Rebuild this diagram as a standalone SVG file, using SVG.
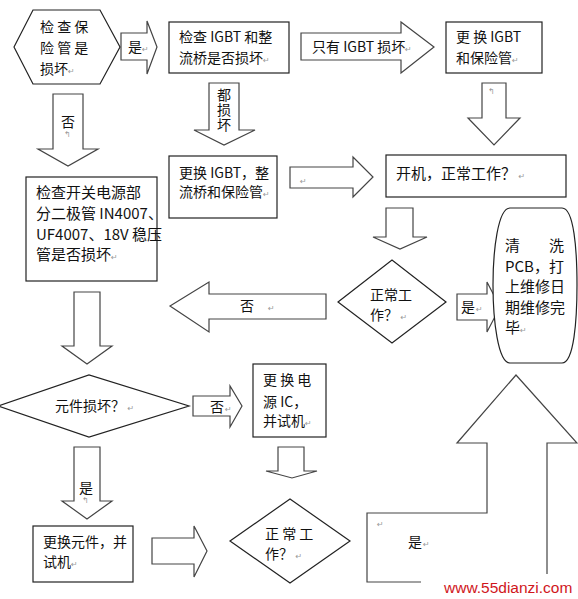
<svg xmlns="http://www.w3.org/2000/svg" width="578" height="599" viewBox="0 0 578 599">
<style>
.shape{fill:#fff;stroke:#222;stroke-width:1.2}
.arrow{fill:#fff;stroke:#444;stroke-width:1.2}
text{font-family:"Noto Sans CJK SC","Noto Sans",sans-serif;fill:#111;font-size:14px}
.t15{font-size:15px}
.mk{font-family:"DejaVu Sans",sans-serif;font-size:8px;fill:#999}
.wm{font-family:"Liberation Sans",Arial,sans-serif;font-size:15.5px;fill:#d0161c}
</style>
<rect width="578" height="599" fill="#fff"/>
<g id="connectors">
  <polygon class="arrow" points="121,33 147,33 147,21 157,47 147,74 147,60 121,60"/>
  <text x="128" y="52">是</text><text class="mk" x="142" y="52">↵</text>
  <polygon class="arrow" points="301,33 401,33 401,22 434,47 401,73 401,60 301,60"/>
  <text x="312" y="52">只有 IGBT 损坏</text><text class="mk" x="405" y="52">↵</text>
  <polygon class="arrow" points="482,83 506,83 506,118 520,118 494,145 468,118 482,118"/>
  <text class="mk" x="488" y="94">↰</text>
  <polygon class="arrow" points="53,94 83,94 83,149 98,149 68,166 38,149 53,149"/>
  <text x="61" y="127">否</text><text class="mk" x="64" y="137">↰</text>
  <polygon class="arrow" points="209,83 239,83 239,130 255,130 224,145 194,130 209,130"/>
  <text x="224" y="88" writing-mode="vertical-rl" font-size="13" letter-spacing="1">都损坏</text>
  <polygon class="arrow" points="290,167 353,167 353,157 373,177 353,197 353,188 290,188"/>
  <text class="mk" x="300" y="184">↵</text>
  <polygon class="arrow" points="386,208 413,208 413,237 427,237 400,249 373,237 386,237"/>
  <polygon class="arrow" points="457,294 487,294 487,282 500,307 487,332 487,320 457,320"/>
  <text x="461" y="312">是</text><text class="mk" x="476" y="312">↵</text>
  <polygon class="arrow" points="326,294 209,294 209,282 170,306 209,332 209,319 326,319"/>
  <text x="240" y="311">否</text><text class="mk" x="268" y="311">↵</text>
  <polygon class="arrow" points="74,292 100,292 100,346 112,346 87,364 62,346 74,346"/>
  <polygon class="arrow" points="193,396 230,396 230,386 242,406 230,427 230,416 193,416"/>
  <text x="210" y="412">否</text><text class="mk" x="225" y="412">↵</text>
  <polygon class="arrow" points="278,447 304,447 304,471 317,471 292,478 266,471 278,471"/>
  <polygon class="arrow" points="74,447 100,447 100,501 112,501 87,519 62,501 74,501"/>
  <text x="79" y="493">是</text><text class="mk" x="82" y="503">↰</text>
  <polygon class="arrow" points="152,538 194,538 194,526 207,551 194,577 194,564 152,564"/>
  <polygon class="arrow" points="367,513 487,513 487,443 457,443 516,375 577,443 547,443 547,582 367,582"/>
  <text class="mk" x="377" y="527">↵</text>
  <text x="408" y="547">是</text><text class="mk" x="423" y="547">↵</text>
</g>
<g id="n-check-fuse">
  <polygon class="shape" points="14,47 33,10 100,10 120,47 100,84 33,84"/>
  <text x="40" y="32">检 查 保</text>
  <text x="40" y="53">险 管 是</text>
  <text x="40" y="74">损坏<tspan class="mk">↵</tspan></text>
</g>
<g id="n-check-igbt">
  <rect class="shape" x="169" y="22" width="120" height="51"/>
  <text x="179" y="42">检查 IGBT 和整</text>
  <text x="179" y="63">流桥是否损坏<tspan class="mk">↵</tspan></text>
</g>
<g id="n-replace-igbt-fuse">
  <rect class="shape" x="446" y="22" width="96" height="51"/>
  <text x="456" y="42">更 换  IGBT</text>
  <text x="456" y="63">和保险管<tspan class="mk">↵</tspan></text>
</g>
<g id="n-replace-all">
  <rect class="shape" x="169" y="156" width="108" height="62"/>
  <text x="179" y="178">更换 IGBT，整</text>
  <text x="179" y="197">流桥和保险管<tspan class="mk">↵</tspan></text>
</g>
<g id="n-power-on">
  <rect class="shape" x="386" y="155" width="180" height="42"/>
  <text class="t15" x="396" y="179">开机，正常工作？<tspan class="mk"> ↵</tspan></text>
</g>
<g id="n-check-diodes">
  <rect class="shape" x="26" y="177" width="131" height="104"/>
  <text class="t15" x="36" y="198">检查开关电源部</text>
  <text class="t15" x="36" y="219">分二极管 IN4007、</text>
  <text class="t15" x="36" y="240">UF4007、18V 稳压</text>
  <text class="t15" x="36" y="260">管是否损坏<tspan class="mk">↵</tspan></text>
</g>
<g id="n-normal-1">
  <polygon class="shape" points="338,302 392,260 446,302 392,343"/>
  <text x="370" y="300">正常工</text>
  <text x="370" y="320">作？<tspan class="mk"> ↵</tspan></text>
</g>
<g id="n-finish">
  <path class="shape" d="M510,208 H562 C574,208 577,250 577,285 C577,320 574,363 562,363 H510 C498,363 493,320 493,285 C493,250 498,208 510,208 Z"/>
  <text class="t15" x="505" y="251">清</text><text class="t15" x="549" y="251">洗</text>
  <text class="t15" x="505" y="272">PCB，打</text>
  <text class="t15" x="505" y="292">上维修日</text>
  <text class="t15" x="505" y="313">期维修完</text>
  <text class="t15" x="505" y="333">毕<tspan class="mk">↵</tspan></text>
</g>
<g id="n-component-bad">
  <polygon class="shape" points="-2,406 89,375 189,406 89,437"/>
  <text font-size="13.5" x="55" y="411">元件损坏？<tspan class="mk"> ↵</tspan></text>
</g>
<g id="n-replace-ic">
  <rect class="shape" x="253" y="364" width="73" height="73"/>
  <text x="263" y="385">更 换 电</text>
  <text x="263" y="407">源  IC，</text>
  <text x="263" y="426">并试机<tspan class="mk">↵</tspan></text>
</g>
<g id="n-normal-2">
  <polygon class="shape" points="230,541 290,499 350,541 290,583"/>
  <text x="265" y="539">正 常 工</text>
  <text x="265" y="559">作？<tspan class="mk"> ↵</tspan></text>
</g>
<g id="n-replace-component">
  <rect class="shape" x="33" y="526" width="100" height="56"/>
  <text font-size="13.5" x="43" y="547">更换元件，并</text>
  <text font-size="13.5" x="43" y="567">试机<tspan class="mk">↵</tspan></text>
</g>
<rect x="421" y="574" width="157" height="25" fill="#fff"/>
<text class="wm" x="444" y="593">www.55dianzi.com</text>
</svg>
